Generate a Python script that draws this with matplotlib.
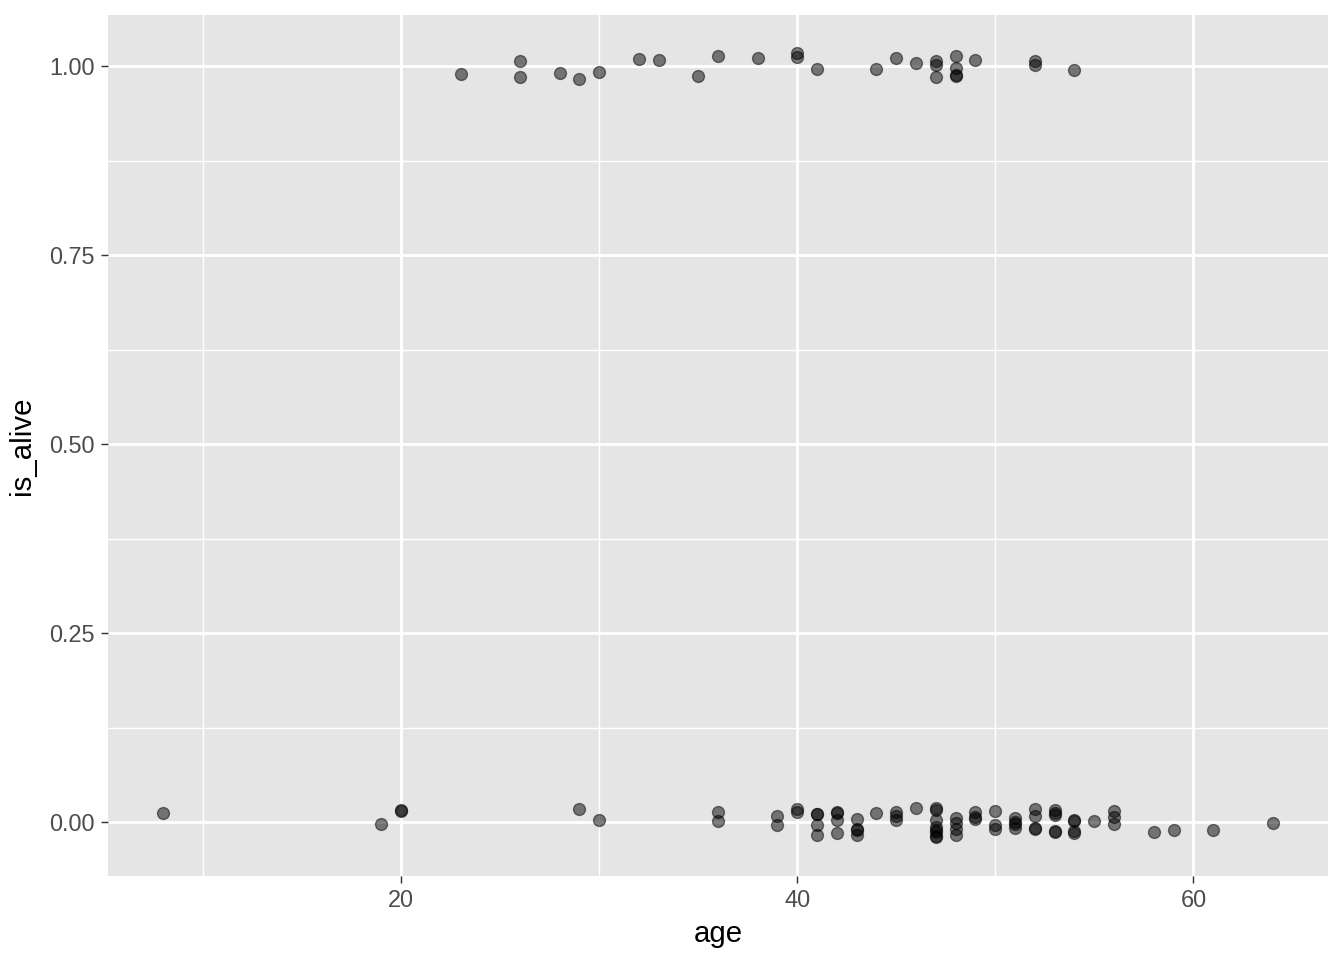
import matplotlib
matplotlib.use('Agg')
import matplotlib.pyplot as plt
from matplotlib.ticker import MultipleLocator

# jittered points (age is exact, is_alive has height jitter)
alive_age = [23, 26, 26, 28, 29, 30, 32, 33, 35, 36, 38, 40, 40, 41,
             44, 45, 46, 47, 47, 47, 48, 48, 48, 48, 49, 52, 52, 54]
alive_y = [0.990, 1.007, 0.986, 0.991, 0.983, 0.992, 1.009, 1.008, 0.987, 1.013, 1.010, 1.017, 1.012, 0.996,
           0.996, 1.011, 1.004, 1.006, 1.001, 0.985, 1.013, 0.997, 0.988, 0.987, 1.008, 1.006, 1.001, 0.995]

dead_age = [8, 19, 20, 20, 29, 30, 36, 36, 39, 39, 40, 40,
            41, 41, 41, 41, 42, 42, 42, 42, 43, 43, 43, 43, 44, 45, 45, 45, 46,
            47, 47, 47, 47, 47, 47, 47, 47, 48, 48, 48, 48, 49, 49, 49,
            50, 50, 50, 51, 51, 51, 51, 52, 52, 52, 52, 53, 53, 53, 53, 53,
            54, 54, 54, 54, 55, 56, 56, 56, 58, 59, 61, 64]
dead_y = [0.0115, -0.0026, 0.016, 0.015, 0.0172, 0.0026, 0.0128, 0.0013, 0.0079, -0.0035, 0.0168, 0.0137,
          0.011, 0.010, -0.0035, -0.0172, 0.013, 0.012, 0.0026, -0.015, 0.0044, -0.009, -0.0105, -0.0172, 0.0123, 0.0132, 0.0079, 0.0026, 0.0181,
          0.018, 0.016, 0.003, -0.006, -0.010, -0.013, -0.018, -0.020, 0.0048, -0.0018, -0.0097, -0.0172, 0.0137, 0.0060, 0.0045,
          0.015, -0.004, -0.0097, 0.0048, 0.0005, -0.0025, -0.0084, 0.0172, 0.0079, -0.008, -0.009, 0.0159, 0.012, 0.0095, -0.012, -0.0135,
          0.0025, 0.0010, -0.012, -0.014, 0.0013, 0.015, 0.007, -0.0026, -0.0137, -0.011, -0.011, -0.0009]

ages = alive_age + dead_age
is_alive = alive_y + dead_y

plt.rcParams['font.family'] = ['Liberation Sans', 'DejaVu Sans']

fig = plt.figure(figsize=(7, 5), dpi=192)
ax = fig.add_axes([108 / 1344, 1 - 876 / 960, (1328 - 108) / 1344, (876 - 15) / 960])

ax.set_facecolor('#E5E5E5')
for s in ax.spines.values():
    s.set_visible(False)

ax.xaxis.set_major_locator(MultipleLocator(20))
ax.xaxis.set_minor_locator(MultipleLocator(10))
ax.yaxis.set_major_locator(MultipleLocator(0.25))
ax.yaxis.set_minor_locator(MultipleLocator(0.125))
ax.grid(which='major', color='white', linewidth=1.07)
ax.grid(which='minor', color='white', linewidth=0.53)
ax.set_axisbelow(True)

ax.scatter(ages, is_alive, s=20, color='black', alpha=0.5, edgecolors='black', linewidths=0.5, zorder=3)

ax.set_xlim(5.2, 66.8)
ax.set_ylim(-0.0714, 1.0675)
ax.set_xticks([20, 40, 60])
ax.set_xticklabels(['20', '40', '60'])
ax.set_yticks([0, 0.25, 0.5, 0.75, 1.0])
ax.set_yticklabels(['0.00', '0.25', '0.50', '0.75', '1.00'])
ax.tick_params(which='major', length=2.75, width=0.53, color='#333333', labelcolor='#4D4D4D',
               labelsize=8.8, pad=2.2)
ax.tick_params(which='minor', length=0)

ax.set_xlabel('age', fontsize=11, color='black', labelpad=3)
ax.set_ylabel('is_alive', fontsize=11, color='black', labelpad=5)

fig.savefig('out.png', dpi=192)
